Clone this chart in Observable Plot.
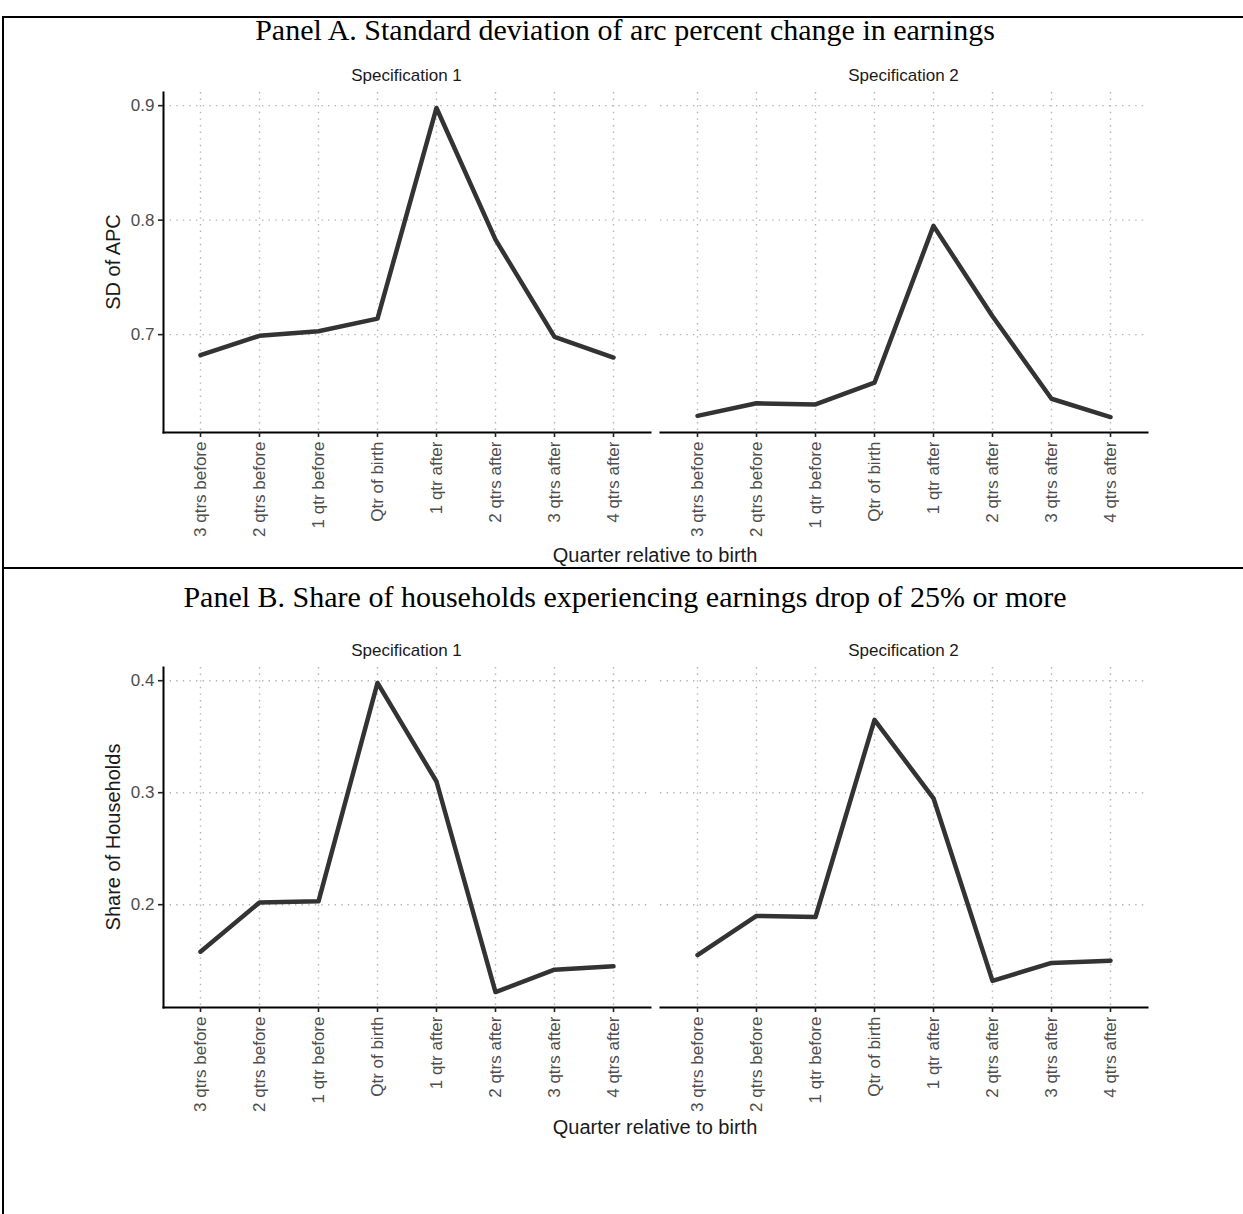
<!DOCTYPE html>
<html><head><meta charset="utf-8">
<script src="https://cdn.jsdelivr.net/npm/d3@7"></script>
<script src="https://cdn.jsdelivr.net/npm/@observablehq/plot@0.6"></script>
<style>
body{margin:0;background:#fff;}
#page{position:relative;width:1243px;height:1214px;overflow:hidden;background:#fff;}
.abs{position:absolute;}
.serif{font-family:"Liberation Serif","Times New Roman",serif;color:#000;}
.sans{font-family:"Liberation Sans",Arial,sans-serif;color:#1a1a1a;}
svg{overflow:visible;}
</style></head><body><div id="page"></div>
<script>
// ---- data ----
const quarters = ["3 qtrs before","2 qtrs before","1 qtr before","Qtr of birth","1 qtr after","2 qtrs after","3 qtrs after","4 qtrs after"];
const specLabels = ["Specification 1","Specification 2"];
const panelTitles = ["Panel A. Standard deviation of arc percent change in earnings","Panel B. Share of households experiencing earnings drop of 25% or more"];
const yLabels = ["SD of APC","Share of Households"];
const xLabel = "Quarter relative to birth";
const sdSpec1 = [0.682,0.699,0.703,0.714,0.898,0.783,0.698,0.680];
const sdSpec2 = [0.629,0.640,0.639,0.658,0.795,0.716,0.644,0.628];
const shareSpec1 = [0.158,0.202,0.203,0.398,0.310,0.122,0.142,0.145];
const shareSpec2 = [0.155,0.190,0.189,0.365,0.295,0.132,0.148,0.150];
const yTicksA = [0.7,0.8,0.9];
const yTicksB = [0.2,0.3,0.4];

// ---- layout helpers ----
const page = document.getElementById("page");
function bar(x,y,w,h){const d=document.createElement("div");d.className="abs";Object.assign(d.style,{left:x+"px",top:y+"px",width:w+"px",height:h+"px",background:"#000"});page.appendChild(d);}
function label(txt,cx,cy,font,size,rot){const d=document.createElement("div");d.className="abs "+font;d.textContent=txt;Object.assign(d.style,{left:cx+"px",top:cy+"px",fontSize:size+"px",lineHeight:"1",whiteSpace:"nowrap",transform:"translate(-50%,-50%)"+(rot?" rotate(-90deg)":"")});page.appendChild(d);}

bar(2,16,1241,2); bar(2,16,2,1198); bar(2,567,1241,2);

const PW = 487, PH = 340, MB = 120;
const panels = [
  {title: panelTitles[0], yLabel: yLabels[0], series:[sdSpec1, sdSpec2], ticks:yTicksA, top:92, titleY:30, specY:75, xTitleY:555},
  {title: panelTitles[1], yLabel: yLabels[1], series:[shareSpec1, shareSpec2], ticks:yTicksB, top:667, titleY:597, specY:650, xTitleY:1127}
];
const lefts = [163, 660];
const grid = {stroke:"#b3b3b3", strokeOpacity:1, strokeWidth:1.4, strokeDasharray:"1.4,5.2"};

panels.forEach(p => {
  const all = p.series.flat();
  const [lo, hi] = d3.extent(all);
  const pad = (hi - lo) * 0.05;
  const domain = [lo - pad, hi + pad];
  label(p.title, 625, p.titleY, "serif", 30);
  label(p.yLabel, 113, p.top + PH/2, "sans", 20, true);
  label(xLabel, 655, p.xTitleY, "sans", 20);
  p.series.forEach((values, i) => {
    label(specLabels[i], lefts[i] + PW/2, p.specY, "sans", 17);
    const data = quarters.map((q,j) => ({q, v: values[j]}));
    const ml = i === 0 ? 60 : 0, mr = i === 0 ? 0 : 10;
    const chart = Plot.plot({
      width: ml + PW + mr, height: 2 + PH + MB,
      marginTop: 2, marginBottom: MB, marginLeft: ml, marginRight: mr,
      x: {type:"point", domain: quarters, padding: 0.6, axis: null},
      y: {domain, axis: null},
      style: {fontFamily:"'Liberation Sans', Arial, sans-serif", background:"transparent", overflow:"visible"},
      marks: [
        Plot.gridX(quarters, grid),
        Plot.gridY(p.ticks, grid),
        Plot.frame({anchor:"bottom", stroke:"#000", strokeWidth:2}),
        i === 0 ? Plot.frame({anchor:"left", stroke:"#000", strokeWidth:2}) : null,
        Plot.axisX(quarters, {tickSize:5, tickPadding:4, tickRotate:-90, fontSize:17, fill:"#4d4d4d", stroke:"#222", strokeWidth:1.6, label:null}),
        i === 0 ? Plot.axisY(p.ticks, {tickSize:5, tickPadding:4, tickFormat:d3.format(".1f"), fontSize:17, fill:"#4d4d4d", stroke:"#222", strokeWidth:1.6, label:null}) : null,
        Plot.line(data, {x:"q", y:"v", stroke:"#333", strokeWidth:4.5, strokeLinejoin:"round"})
      ]
    });
    chart.style.position = "absolute";
    chart.style.left = (lefts[i] - ml) + "px";
    chart.style.top = (p.top - 2) + "px";
    page.appendChild(chart);
  });
});
</script>
</body></html>
